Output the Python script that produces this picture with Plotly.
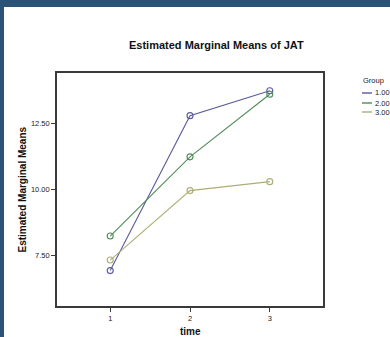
import plotly.graph_objects as go

# ---- data ----
times = [1, 2, 3]
groups = ["1.00", "2.00", "3.00"]
group1 = [6.92, 12.79, 13.73]
group2 = [8.23, 11.23, 13.60]
group3 = [7.32, 9.95, 10.29]
series = [group1, group2, group3]
colors = ["#5a5a9c", "#4f8d58", "#adad74"]
ytick_vals = [7.5, 10.0, 12.5]
ytick_text = ["7.50", "10.00", "12.50"]

W, H = 390, 337
L, R, T, B = 57, 67, 73, 31
PW, PH = W - L - R, H - T - B

def px_x(x):
    return (x - L) / PW

def px_y(y):
    return (H - B - y) / PH

FONT = "Liberation Sans, Arial, sans-serif"

fig = go.Figure()
for name, vals, col in zip(groups, series, colors):
    fig.add_trace(go.Scatter(
        x=times, y=vals, name=name, mode="lines+markers",
        line=dict(color=col, width=1.1),
        marker=dict(symbol="circle-open", size=6, color=col, line=dict(width=1.1)),
        showlegend=False,
    ))

axis_common = dict(
    showline=True, mirror=True, linecolor="#3a3a3a", linewidth=1.6,
    showgrid=False, zeroline=False, ticks="outside", ticklen=4,
    tickcolor="#3a3a3a", tickwidth=1.2,
    tickfont=dict(family=FONT, size=7.5, color="#222222"),
)

fig.update_xaxes(range=[0.333, 3.667], tickvals=times,
                 ticktext=[str(t) for t in times], **axis_common)
fig.update_yaxes(range=[5.58, 14.405], tickvals=ytick_vals,
                 ticktext=ytick_text, **axis_common)

annotations = [
    dict(text="<b>Estimated Marginal Means of JAT</b>", x=px_x(216), y=px_y(45),
         xref="paper", yref="paper", xanchor="center", yanchor="middle",
         showarrow=False, font=dict(family=FONT, size=11, color="#111111")),
    dict(text="<b>Estimated Marginal Means</b>", x=px_x(22), y=0.5,
         xref="paper", yref="paper", xanchor="center", yanchor="middle",
         textangle=-90, showarrow=False,
         font=dict(family=FONT, size=10, color="#111111")),
    dict(text="<b>time</b>", x=0.5, y=px_y(331),
         xref="paper", yref="paper", xanchor="center", yanchor="middle",
         showarrow=False, font=dict(family=FONT, size=10, color="#111111")),
    dict(text="Group", x=px_x(373), y=px_y(80),
         xref="paper", yref="paper", xanchor="center", yanchor="middle",
         showarrow=False, font=dict(family=FONT, size=7.5, color="#222222")),
]
shapes = []
leg_y = [93, 103, 112]
for name, col, yy in zip(groups, colors, leg_y):
    shapes.append(dict(type="line", xref="paper", yref="paper",
                       x0=px_x(362), x1=px_x(372), y0=px_y(yy), y1=px_y(yy),
                       line=dict(color=col, width=1.4)))
    annotations.append(dict(text=name, x=px_x(373), y=px_y(yy),
                            xref="paper", yref="paper", xanchor="left",
                            yanchor="middle", showarrow=False,
                            font=dict(family=FONT, size=7.5, color="#222222")))

# blue frame strips (top and left)
shapes.append(dict(type="rect", xref="paper", yref="paper",
                   x0=px_x(0), x1=px_x(W), y0=px_y(7), y1=px_y(0),
                   fillcolor="#2b5378", line=dict(width=0)))
shapes.append(dict(type="rect", xref="paper", yref="paper",
                   x0=px_x(0), x1=px_x(4), y0=px_y(H), y1=px_y(0),
                   fillcolor="#2b5378", line=dict(width=0)))

fig.update_layout(
    width=W, height=H,
    margin=dict(l=L, r=R, t=T, b=B, pad=0),
    paper_bgcolor="white", plot_bgcolor="white",
    annotations=annotations, shapes=shapes,
    showlegend=False,
)

fig.write_html(
    "out.html",
    config={"displayModeBar": False},
    post_script="document.body.style.margin='0px';document.body.style.padding='0px';document.body.style.overflow='hidden';",
)
